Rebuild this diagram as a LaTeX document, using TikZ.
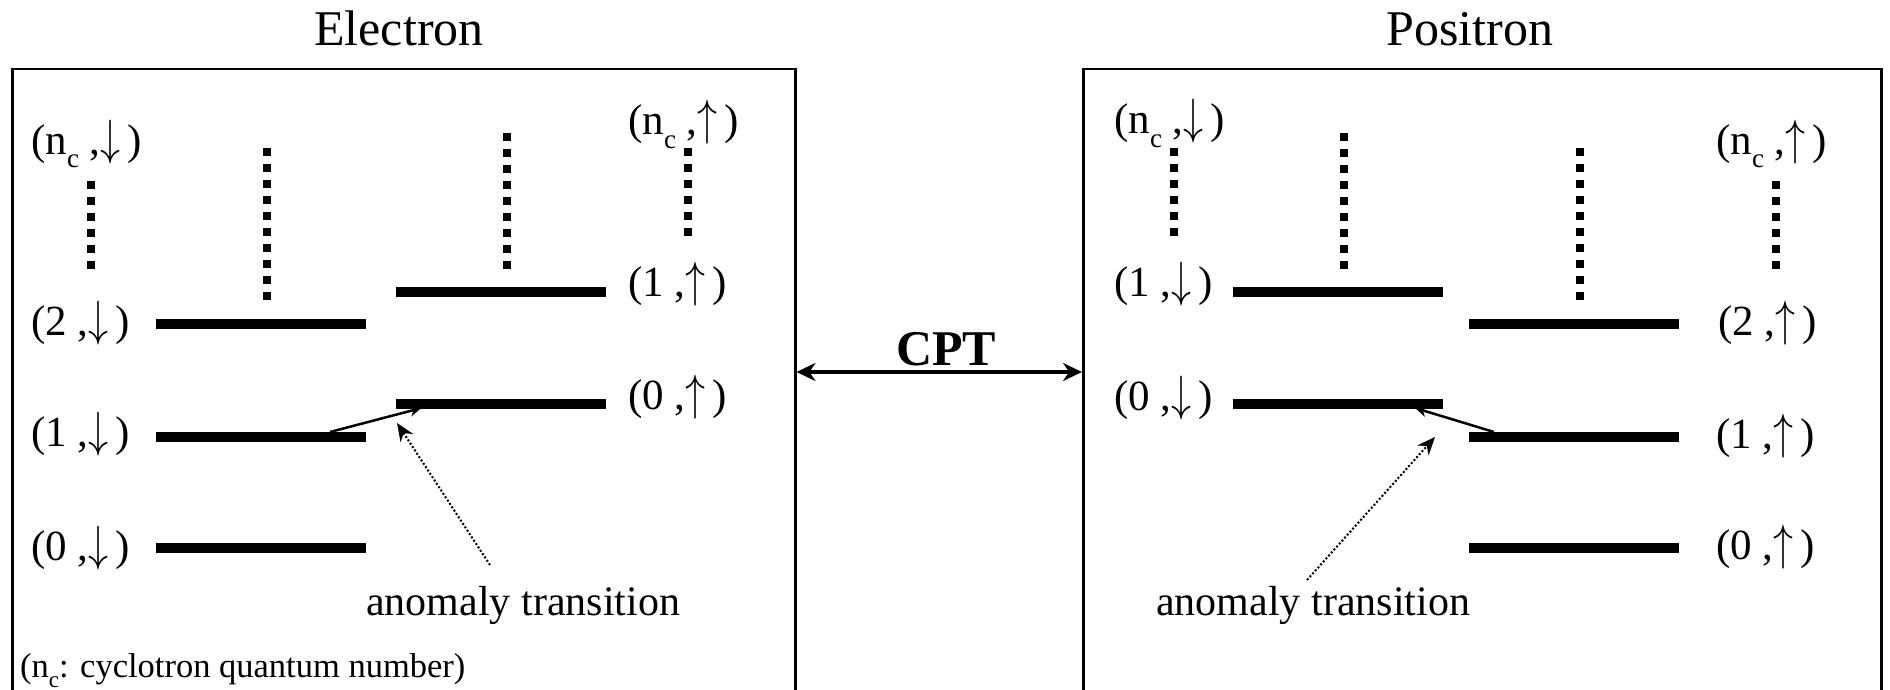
\documentclass[tikz,border=0pt]{standalone}
\usepackage{fontspec}
\setmainfont{Liberation Serif}
\usetikzlibrary{arrows.meta,calc}

% subscript c of the cyclotron quantum number
\newcommand\ncyc{n\raisebox{-0.32em}{\fontsize{27}{27}\selectfont c}}
% tall thin spin arrows
\newcommand\spinup{\resizebox*{20pt}{44pt}{$\uparrow$}}
\newcommand\spindn{\resizebox*{20pt}{44pt}{$\downarrow$}}

\begin{document}
\begin{tikzpicture}[x=1pt,y=-1pt,
  frame/.style={draw,line width=2.5pt,rectangle,inner sep=0pt,minimum width=783pt,minimum height=660pt},
  level/.style={fill=black,rectangle,minimum width=210pt,minimum height=10pt,inner sep=0pt,outer sep=0pt},
  ladder/.style={line width=8pt,dash pattern=on 8pt off 8pt},
  state/.style={font=\fontsize{43}{50}\selectfont,inner sep=0pt,anchor=base west},
  heading/.style={font=\fontsize{50}{60}\selectfont,inner sep=0pt,anchor=base},
  remark/.style={font=\fontsize{42}{50}\selectfont,inner sep=0pt,anchor=base west},
  trans/.style={line width=2.5pt,-{Stealth[length=12pt,width=11pt]}},
  hint/.style={line width=2pt,dash pattern=on 2pt off 2pt,-{Stealth[length=18pt,width=15pt]}},
  cptarrow/.style={line width=4pt,{Stealth[length=19pt,width=18pt]}-{Stealth[length=19pt,width=18pt]}}]

\useasboundingbox (0,0) rectangle (1890,690);

% titles
\node[heading] (tE) at (399,46) {Electron};
\node[heading] (tP) at (1470,46) {Positron};

% panels (open towards the bottom edge)
\node[frame,anchor=north west] (ebox) at (11,68) {};
\node[frame,anchor=north west,minimum width=798pt] (pbox) at (1082,68) {};

% CPT link
\coordinate (cptline) at (0,372);
\draw[cptarrow] (ebox.east |- cptline) -- (pbox.west |- cptline);
\node[font=\bfseries\fontsize{50}{60}\selectfont,inner sep=0pt,anchor=base] (cpt) at (946,365) {CPT};

% ---------------- electron levels ----------------
\node[level] (e2d) at (261,324) {};
\node[level] (e1d) at (261,437) {};
\node[level] (e0d) at (261,548) {};
\node[level] (e1u) at (500.5,292) {};
\node[level] (e0u) at (500.5,404) {};

\draw[ladder] (91,181) -- (91,269);
\draw[ladder] (267,148) -- (267,300);
\draw[ladder] (507,133) -- (507,269);
\draw[ladder] (688,148) -- (688,236);

\node[state] (le1) at (31,154) {(\ncyc\ ,\spindn\,)};
\node[state] (le2) at (628,135) {(\ncyc\ ,\spinup\,)};
\node[state] (le3) at (31,335) {(2 ,\spindn\,)};
\node[state] (le4) at (628,296) {(1 ,\spinup\,)};
\node[state] (le5) at (31,446) {(1 ,\spindn\,)};
\node[state] (le6) at (628,409) {(0 ,\spinup\,)};
\node[state] (le7) at (31,560) {(0 ,\spindn\,)};

\node[remark] (eanom) at (366,615) {anomaly transition};
\coordinate (eTail) at ($(e1d.north west)+(174,0)$);
\coordinate (eHead) at ($(e0u.south west)+(26,-1)$);
\draw[trans] (eTail) -- (eHead);
\coordinate (eHintS) at (490,565);
\coordinate (eHintE) at (397,423);
\draw[hint] (eHintS) -- (eHintE);

\node[font=\fontsize{34.5}{40}\selectfont,inner sep=0pt,anchor=base west] (fn) at (20,677)
  {(n\raisebox{-0.3em}{\fontsize{23}{23}\selectfont c}: cyclotron quantum number)};

% ---------------- positron levels ----------------
\node[level] (p1d) at (1338,292) {};
\node[level] (p0d) at (1338,404) {};
\node[level] (p2u) at (1574,324) {};
\node[level] (p1u) at (1574,437) {};
\node[level] (p0u) at (1574,548) {};

\draw[ladder] (1174,148) -- (1174,236);
\draw[ladder] (1344,133) -- (1344,269);
\draw[ladder] (1580,148) -- (1580,300);
\draw[ladder] (1776,181) -- (1776,269);

\node[state] (lp1) at (1114,134) {(\ncyc\ ,\spindn\,)};
\node[state] (lp2) at (1716,154) {(\ncyc\ ,\spinup\,)};
\node[state] (lp3) at (1114,296) {(1 ,\spindn\,)};
\node[state] (lp4) at (1718,335) {(2 ,\spinup\,)};
\node[state] (lp5) at (1114,410) {(0 ,\spindn\,)};
\node[state] (lp6) at (1716,448) {(1 ,\spinup\,)};
\node[state] (lp7) at (1716,559) {(0 ,\spinup\,)};

\node[remark] (panom) at (1156,615) {anomaly transition};
\coordinate (pTail) at ($(p1u.north west)+(25,0)$);
\coordinate (pHead) at ($(p0d.south east)+(-28,-1)$);
\draw[trans] (pTail) -- (pHead);
\coordinate (pHintS) at (1307,580);
\coordinate (pHintE) at (1435,437);
\draw[hint] (pHintS) -- (pHintE);

\end{tikzpicture}
\end{document}
